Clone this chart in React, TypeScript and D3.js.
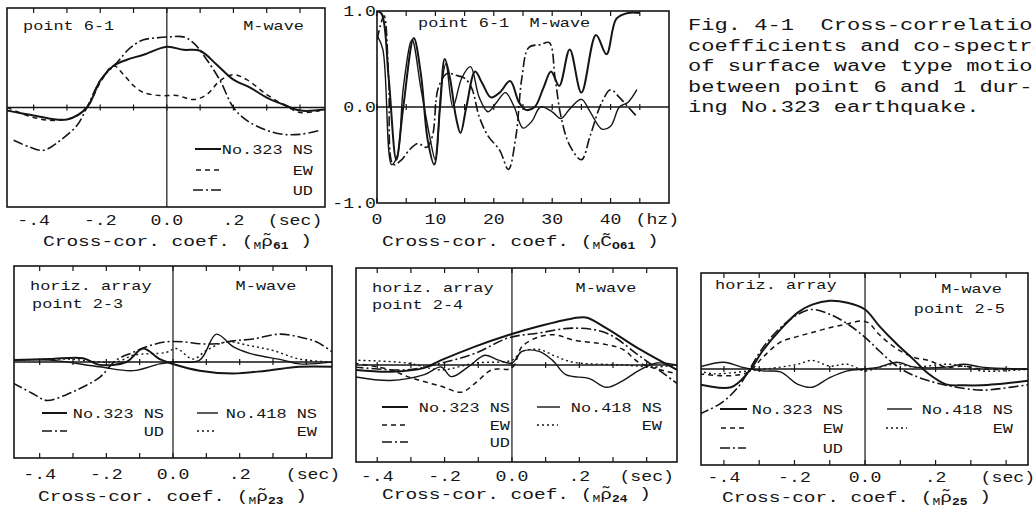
import React from "react";
import * as d3 from "d3";

type Pt = [number, number];

// point 6-1, cross-correlation against lag (sec)
const cc61NS: Pt[] = [[-0.48, -0.03], [-0.4, -0.08], [-0.3, -0.12], [-0.24, 0], [-0.2, 0.27], [-0.16, 0.42], [-0.12, 0.48], [-0.07, 0.53], [0, 0.61], [0.05, 0.58], [0.1, 0.57], [0.15, 0.43], [0.2, 0.28], [0.25, 0.2], [0.3, 0.1], [0.35, 0.03], [0.4, -0.03], [0.475, -0.02]];
const cc61EW: Pt[] = [[-0.48, 0], [-0.4, -0.1], [-0.34, -0.13], [-0.28, -0.1], [-0.24, 0], [-0.2, 0.25], [-0.16, 0.42], [-0.13, 0.33], [-0.1, 0.22], [-0.07, 0.15], [-0.02, 0.12], [0.03, 0.12], [0.08, 0.08], [0.12, 0.13], [0.16, 0.27], [0.2, 0.33], [0.24, 0.28], [0.3, 0.13], [0.35, 0.03], [0.4, -0.05], [0.46, -0.03]];
const cc61UD: Pt[] = [[-0.46, -0.33], [-0.41, -0.4], [-0.37, -0.43], [-0.32, -0.33], [-0.27, -0.18], [-0.24, 0], [-0.2, 0.27], [-0.15, 0.45], [-0.11, 0.6], [-0.07, 0.68], [-0.03, 0.7], [0.01, 0.71], [0.05, 0.71], [0.08, 0.65], [0.12, 0.48], [0.16, 0.27], [0.2, 0], [0.24, -0.13], [0.3, -0.23], [0.35, -0.27], [0.4, -0.27], [0.46, -0.23]];

// point 6-1, co-spectrum against frequency (hz)
const co61NS: Pt[] = [[0, 1], [0.8, 0.97], [2, 0.3], [3.3, -0.55], [4.5, 0], [6.3, 0.72], [7.5, 0.35], [8.7, -0.35], [9.8, -0.6], [10.8, 0], [11.6, 0.5], [12.5, 0.3], [13.5, -0.1], [14.3, -0.27], [15.3, 0], [16.8, 0.37], [18, 0.25], [19.5, 0.1], [21, 0.15], [22.8, 0.27], [24.3, 0.05], [25.5, -0.03], [27, 0], [28.5, 0.2], [29.8, 0.37], [31.2, 0.22], [33, 0.6], [35, 0.15], [37.5, 0.75], [39.3, 0.55], [41, 0.92], [43, 0.98], [45, 0.98]];
const co61EW: Pt[] = [[0, 0.75], [1, 0.6], [2.5, -0.6], [3.5, -0.5], [4.5, 0.2], [6, 0.7], [7.5, 0.2], [9, -0.3], [10, -0.55], [11, 0.2], [11.8, 0.45], [13, 0], [14.5, 0.3], [16, 0.42], [17.5, 0.1], [19, -0.05], [20.5, 0.05], [22, 0.15], [23.5, 0], [25, -0.22], [26.5, -0.15], [28, 0], [30, -0.05], [31.5, -0.12], [33, -0.02], [35, 0.08], [36.5, -0.05], [38.5, -0.23], [40, -0.2], [41.5, 0], [43, 0.05], [44.5, 0.18]];
const co61UD: Pt[] = [[0, 0.7], [1.2, 0.95], [2, 0.3], [2.8, -0.6], [4.2, -0.55], [5.5, -0.45], [7, -0.38], [8.5, -0.42], [9.5, -0.3], [10.5, 0.2], [12, 0.35], [13.5, 0.33], [15, 0.3], [16.2, 0.2], [17.5, -0.1], [19, -0.3], [21, -0.45], [22.5, -0.65], [23.8, -0.3], [24.8, 0.3], [26, 0.62], [28, 0.65], [29.5, 0.67], [30.5, 0.3], [31.5, -0.1], [33, -0.4], [35, -0.55], [36.5, -0.3], [38.5, 0.05], [40, 0.18], [41.5, 0.1], [43, 0], [44.5, -0.1]];

// horiz. array point 2-3
const cc23NS323: Pt[] = [[-0.48, 0.02], [-0.37, 0.03], [-0.27, 0.04], [-0.22, -0.03], [-0.14, 0], [-0.09, 0.14], [-0.04, 0.03], [0, -0.02], [0.08, -0.09], [0.18, -0.12], [0.28, -0.09], [0.38, -0.05], [0.48, -0.05]];
const cc23UD323: Pt[] = [[-0.48, -0.22], [-0.42, -0.33], [-0.38, -0.4], [-0.32, -0.34], [-0.27, -0.26], [-0.22, -0.16], [-0.17, 0.02], [-0.12, 0.1], [-0.07, 0.17], [-0.02, 0.21], [0.03, 0.21], [0.08, 0.19], [0.13, 0.19], [0.18, 0.22], [0.24, 0.24], [0.32, 0.29], [0.38, 0.26], [0.43, 0.21], [0.48, 0.1]];
const cc23NS418: Pt[] = [[-0.48, 0.02], [-0.37, 0.02], [-0.22, -0.05], [-0.12, -0.09], [-0.04, -0.02], [0, 0], [0.08, 0.02], [0.13, 0.29], [0.18, 0.16], [0.23, 0.09], [0.33, 0.02], [0.38, -0.02], [0.48, 0]];
const cc23EW418: Pt[] = [[-0.48, 0.02], [-0.32, 0.03], [-0.17, 0], [-0.12, 0.07], [-0.02, 0.1], [0.01, 0.14], [0.06, 0.03], [0.1, 0.12], [0.16, 0.21], [0.23, 0.17], [0.3, 0.12], [0.38, 0.03], [0.48, 0]];

// horiz. array point 2-4
const cc24NS323: Pt[] = [[-0.47, -0.05], [-0.36, -0.07], [-0.26, -0.03], [-0.21, 0.05], [-0.11, 0.19], [-0.01, 0.31], [0.08, 0.4], [0.18, 0.48], [0.22, 0.49], [0.28, 0.38], [0.38, 0.16], [0.49, -0.05]];
const cc24EW323: Pt[] = [[-0.47, 0.02], [-0.36, -0.05], [-0.31, -0.12], [-0.21, -0.22], [-0.15, -0.28], [-0.11, -0.19], [-0.06, -0.05], [0, -0.03], [0.03, 0.19], [0.08, 0.29], [0.13, 0.31], [0.18, 0.26], [0.28, 0.21], [0.33, 0.16], [0.38, 0.02], [0.49, -0.09]];
const cc24UD323: Pt[] = [[-0.47, -0.02], [-0.31, -0.05], [-0.21, 0.02], [-0.11, 0.12], [-0.01, 0.28], [0.08, 0.33], [0.18, 0.38], [0.28, 0.33], [0.38, 0.09], [0.49, -0.19]];
const cc24NS418: Pt[] = [[-0.47, -0.12], [-0.36, -0.16], [-0.26, -0.1], [-0.21, -0.02], [-0.18, -0.12], [-0.13, -0.02], [-0.08, 0.1], [-0.04, 0.05], [0, 0.02], [0.03, 0.14], [0.08, 0.14], [0.12, 0.05], [0.16, -0.1], [0.23, -0.14], [0.28, -0.23], [0.33, -0.16], [0.38, -0.05], [0.43, 0.02], [0.49, 0]];
const cc24EW418: Pt[] = [[-0.47, 0.05], [-0.31, 0.02], [-0.21, -0.05], [-0.11, 0.02], [0, 0.05], [0.03, 0.14], [0.08, 0.16], [0.13, 0.09], [0.18, 0.03], [0.33, 0], [0.43, -0.02], [0.49, 0]];

// horiz. array point 2-5
const cc25NS323: Pt[] = [[-0.47, -0.16], [-0.38, -0.19], [-0.33, -0.03], [-0.29, 0.19], [-0.24, 0.41], [-0.19, 0.59], [-0.15, 0.67], [-0.1, 0.71], [-0.05, 0.69], [0, 0.62], [0.04, 0.45], [0.09, 0.26], [0.14, 0.09], [0.18, -0.05], [0.23, -0.16], [0.28, -0.17], [0.33, -0.17], [0.37, -0.16], [0.47, -0.12]];
const cc25EW323: Pt[] = [[-0.47, -0.05], [-0.38, -0.07], [-0.33, -0.03], [-0.29, 0.12], [-0.24, 0.28], [-0.19, 0.34], [-0.15, 0.38], [-0.1, 0.43], [-0.05, 0.47], [-0.01, 0.5], [0.01, 0.48], [0.04, 0.36], [0.09, 0.21], [0.14, 0.12], [0.18, 0.09], [0.23, 0.02], [0.28, 0.03], [0.33, 0], [0.47, 0]];
const cc25UD323: Pt[] = [[-0.47, -0.47], [-0.41, -0.36], [-0.36, -0.19], [-0.33, -0.02], [-0.29, 0.22], [-0.24, 0.43], [-0.19, 0.57], [-0.15, 0.62], [-0.1, 0.57], [-0.05, 0.47], [0, 0.33], [0.04, 0.19], [0.09, 0.03], [0.14, -0.07], [0.23, -0.17], [0.33, -0.22], [0.37, -0.21], [0.47, -0.16]];
const cc25NS418: Pt[] = [[-0.47, 0.02], [-0.4, 0.07], [-0.35, 0.02], [-0.29, -0.02], [-0.24, -0.03], [-0.19, -0.16], [-0.15, -0.19], [-0.1, -0.09], [-0.05, -0.02], [0, 0], [0.04, 0.02], [0.09, 0.07], [0.14, 0.02], [0.23, 0.02], [0.28, 0.05], [0.33, 0.02], [0.47, 0]];
const cc25EW418: Pt[] = [[-0.47, -0.02], [-0.43, -0.05], [-0.33, -0.02], [-0.24, 0.02], [-0.19, 0.05], [-0.15, 0.09], [-0.1, 0.03], [-0.05, 0.05], [0, -0.02], [0.04, 0.02], [0.09, 0.05], [0.14, 0.02], [0.23, 0.05], [0.28, 0.03], [0.33, -0.02], [0.47, 0]];

const lagTicks = [-0.4, -0.3, -0.2, -0.1, 0, 0.1, 0.2, 0.3, 0.4];
const lagLabelValues = [-0.4, -0.2, 0, 0.2];
const lagLabels = ["-.4", "-.2", "0.0", ".2"];
const hzTicks = [0, 5, 10, 15, 20, 25, 30, 35, 40, 45];
const hzLabelValues = [0, 10, 20, 30, 40];
const hzLabels = ["0", "10", "20", "30", "40"];
const coefLabelValues = [1, 0, -1];
const coefLabels = ["1.0", "0.0", "-1.0"];

const captionLines = [
  "Fig. 4-1  Cross-correlation",
  "coefficients and co-spectra",
  "of surface wave type motion",
  "between point 6 and 1 dur-",
  "ing No.323 earthquake.",
];

const FONT = "'Liberation Mono', 'Courier New', monospace";
const INK = "#151515";
// the scan is wider than it is tall, so the typewriter text is stretched sideways
const SX = 1.3;

const STYLES: Record<string, { dash: string; w: number }> = {
  solid: { dash: "none", w: 2 },
  thin: { dash: "none", w: 1.4 },
  dashed: { dash: "5 4", w: 1.5 },
  dashdot: { dash: "10 3 2 3", w: 1.6 },
  dotted: { dash: "2 3", w: 1.4 },
};

type Box = { l: number; r: number; t: number; b: number };
type Curve = { data: Pt[]; style: string };
type Scale = d3.ScaleLinear<number, number>;

function T({ x, y, size = 13, anchor = "start", children }: { x: number; y: number; size?: number; anchor?: string; children: React.ReactNode }) {
  return (
    <text transform={`translate(${x},${y}) scale(${SX},1)`} fontSize={size} textAnchor={anchor} style={{ whiteSpace: "pre" }}>
      {children}
    </text>
  );
}

function Panel(props: {
  id: string;
  box: Box;
  xDomain: [number, number];
  curves: Curve[];
  ticks: number[];
  vLine?: boolean;
  bottomTicks?: boolean;
  children?: (x: Scale, y: Scale) => React.ReactNode;
}) {
  const { id, box, xDomain, curves, ticks, vLine, bottomTicks, children } = props;
  const x = d3.scaleLinear().domain(xDomain).range([box.l, box.r]);
  const y = d3.scaleLinear().domain([-1, 1]).range([box.b, box.t]);
  const line = d3
    .line<Pt>()
    .x((d) => x(d[0]))
    .y((d) => y(d[1]))
    .curve(d3.curveCatmullRom.alpha(0.5));
  return (
    <g>
      <defs>
        <clipPath id={id}>
          <rect x={box.l} y={box.t} width={box.r - box.l} height={box.b - box.t} />
        </clipPath>
      </defs>
      <rect x={box.l} y={box.t} width={box.r - box.l} height={box.b - box.t} fill="none" stroke={INK} strokeWidth={1.6} />
      <line x1={box.l} x2={box.r} y1={y(0)} y2={y(0)} stroke={INK} strokeWidth={1.5} />
      {vLine && <line x1={x(0)} x2={x(0)} y1={box.t} y2={box.b} stroke={INK} strokeWidth={1.2} />}
      {ticks.map((t) => (
        <g key={t} stroke={INK} strokeWidth={1.2}>
          <line x1={x(t)} x2={x(t)} y1={box.t} y2={box.t + 5} />
          {bottomTicks && <line x1={x(t)} x2={x(t)} y1={box.b} y2={box.b - 5} />}
          <line x1={x(t)} x2={x(t)} y1={y(0) - 3} y2={y(0) + 3} />
        </g>
      ))}
      <g clipPath={`url(#${id})`}>
        {curves.map((c, i) => (
          <path
            key={i}
            d={line(c.data) ?? ""}
            fill="none"
            stroke={INK}
            strokeWidth={STYLES[c.style].w}
            strokeDasharray={STYLES[c.style].dash}
            strokeLinejoin="round"
          />
        ))}
      </g>
      {children && children(x, y)}
    </g>
  );
}

function Legend({ x1, x2, y, style, label, right }: { x1: number; x2: number; y: number; style: string; label: string; right: number }) {
  return (
    <g>
      <line x1={x1} x2={x2} y1={y} y2={y} stroke={INK} strokeWidth={STYLES[style].w} strokeDasharray={STYLES[style].dash} />
      <T x={right} y={y + 4.5} anchor="end">{label}</T>
    </g>
  );
}

function Title({ x, y, sym, sub }: { x: number; y: number; sym: string; sub: string }) {
  return (
    <T x={x} y={y} size={15}>
      {"Cross-cor. coef. ("}
      <tspan fontSize={10} dy={3}>M</tspan>
      <tspan dy={-3}>{sym}</tspan>
      <tspan fontSize={10} dy={3} fontWeight="bold">{sub}</tspan>
      <tspan dy={-4}>{" )"}</tspan>
    </T>
  );
}

function LagLabels({ x, y, secAt }: { x: Scale; y: number; secAt: number }) {
  return (
    <g>
      {lagLabelValues.map((v, i) => (
        <T key={v} x={x(v)} y={y} size={14} anchor="middle">
          {lagLabels[i]}
        </T>
      ))}
      <T x={x(secAt)} y={y} size={14} anchor="middle">(sec)</T>
    </g>
  );
}

export default function App() {
  return (
    <svg
      width={1034}
      height={515}
      style={{ position: "absolute", left: 0, top: 0, background: "#fff" }}
      fontFamily={FONT}
      fill={INK}
    >
      <rect width={1034} height={515} fill="#fff" />

      {/* point 6-1, correlation */}
      <Panel
        id="c61"
        box={{ l: 7, r: 325, t: 8, b: 207 }}
        xDomain={[-0.48, 0.475]}
        ticks={lagTicks}
        vLine
        curves={[
          { data: cc61NS, style: "solid" },
          { data: cc61EW, style: "dashed" },
          { data: cc61UD, style: "dashdot" },
        ]}
      >
        {(x) => (
          <g>
            <T x={23} y={30}>point 6-1</T>
            <T x={304} y={30} anchor="end">M-wave</T>
            <Legend x1={195} x2={221} y={149} style="solid" label="No.323 NS" right={313} />
            <Legend x1={196} x2={219} y={170} style="dashed" label="EW" right={313} />
            <Legend x1={193} x2={222} y={190} style="dashdot" label="UD" right={313} />
            <LagLabels x={x} y={225} secAt={0.385} />
          </g>
        )}
      </Panel>
      <Title x={43} y={246} sym="ρ̃" sub="61" />

      {/* point 6-1, co-spectrum */}
      <Panel
        id="s61"
        box={{ l: 377, r: 669, t: 11, b: 203 }}
        xDomain={[0, 50]}
        ticks={hzTicks}
        bottomTicks
        curves={[
          { data: co61NS, style: "solid" },
          { data: co61EW, style: "thin" },
          { data: co61UD, style: "dashdot" },
        ]}
      >
        {(x, y) => (
          <g>
            <T x={418} y={27}>point 6-1  M-wave</T>
            {coefLabelValues.map((v, i) => (
              <T key={v} x={376} y={y(v) + 5} size={14} anchor="end">
                {coefLabels[i]}
              </T>
            ))}
            {hzLabelValues.map((v, i) => (
              <T key={v} x={x(v)} y={224} size={14} anchor="middle">
                {hzLabels[i]}
              </T>
            ))}
            <T x={x(48)} y={224} size={14} anchor="middle">(hz)</T>
          </g>
        )}
      </Panel>
      <Title x={382} y={246} sym="C̃" sub="O61" />

      {/* caption */}
      {captionLines.map((s, i) => (
        <T key={i} x={688} y={30 + i * 20.5} size={17}>
          {s}
        </T>
      ))}

      {/* point 2-3 */}
      <Panel
        id="c23"
        box={{ l: 14, r: 332, t: 266, b: 458 }}
        xDomain={[-0.477, 0.477]}
        ticks={lagTicks}
        vLine
        bottomTicks
        curves={[
          { data: cc23NS323, style: "solid" },
          { data: cc23UD323, style: "dashdot" },
          { data: cc23NS418, style: "thin" },
          { data: cc23EW418, style: "dotted" },
        ]}
      >
        {(x) => (
          <g>
            <T x={30} y={290}>horiz. array</T>
            <T x={32} y={308}>point 2-3</T>
            <T x={266} y={290} anchor="middle">M-wave</T>
            <Legend x1={42} x2={67} y={413} style="solid" label="No.323 NS" right={164} />
            <Legend x1={42} x2={67} y={431} style="dashdot" label="UD" right={164} />
            <Legend x1={197} x2={218} y={413} style="thin" label="No.418 NS" right={317} />
            <Legend x1={197} x2={217} y={431} style="dotted" label="EW" right={317} />
            <LagLabels x={x} y={479} secAt={0.42} />
          </g>
        )}
      </Panel>
      <Title x={38} y={501} sym="ρ̃" sub="23" />

      {/* point 2-4 */}
      <Panel
        id="c24"
        box={{ l: 356, r: 677, t: 268, b: 462 }}
        xDomain={[-0.463, 0.49]}
        ticks={lagTicks}
        vLine
        bottomTicks
        curves={[
          { data: cc24NS323, style: "solid" },
          { data: cc24EW323, style: "dashed" },
          { data: cc24UD323, style: "dashdot" },
          { data: cc24NS418, style: "thin" },
          { data: cc24EW418, style: "dotted" },
        ]}
      >
        {(x) => (
          <g>
            <T x={372} y={292}>horiz. array</T>
            <T x={372} y={309}>point 2-4</T>
            <T x={606} y={292} anchor="middle">M-wave</T>
            <Legend x1={382} x2={408} y={407} style="solid" label="No.323 NS" right={510} />
            <Legend x1={382} x2={407} y={425} style="dashed" label="EW" right={510} />
            <Legend x1={382} x2={408} y={442} style="dashdot" label="UD" right={510} />
            <Legend x1={537} x2={560} y={407} style="thin" label="No.418 NS" right={662} />
            <Legend x1={537} x2={558} y={425} style="dotted" label="EW" right={662} />
            <LagLabels x={x} y={481} secAt={0.4} />
          </g>
        )}
      </Panel>
      <Title x={382} y={499} sym="ρ̃" sub="24" />

      {/* point 2-5 */}
      <Panel
        id="c25"
        box={{ l: 701, r: 1028, t: 273, b: 465 }}
        xDomain={[-0.465, 0.462]}
        ticks={lagTicks}
        vLine
        bottomTicks
        curves={[
          { data: cc25NS323, style: "solid" },
          { data: cc25EW323, style: "dashed" },
          { data: cc25UD323, style: "dashdot" },
          { data: cc25NS418, style: "thin" },
          { data: cc25EW418, style: "dotted" },
        ]}
      >
        {(x) => (
          <g>
            <T x={715} y={289}>horiz. array</T>
            <T x={1002} y={293} anchor="end">M-wave</T>
            <T x={1005} y={313} anchor="end">point 2-5</T>
            <Legend x1={720} x2={747} y={409} style="solid" label="No.323 NS" right={843} />
            <Legend x1={721} x2={745} y={428} style="dashed" label="EW" right={843} />
            <Legend x1={720} x2={746} y={448} style="dashdot" label="UD" right={843} />
            <Legend x1={887} x2={912} y={409} style="thin" label="No.418 NS" right={1013} />
            <Legend x1={886} x2={907} y={428} style="dotted" label="EW" right={1013} />
            <LagLabels x={x} y={482} secAt={0.405} />
          </g>
        )}
      </Panel>
      <Title x={722} y={502} sym="ρ̃" sub="25" />
    </svg>
  );
}
